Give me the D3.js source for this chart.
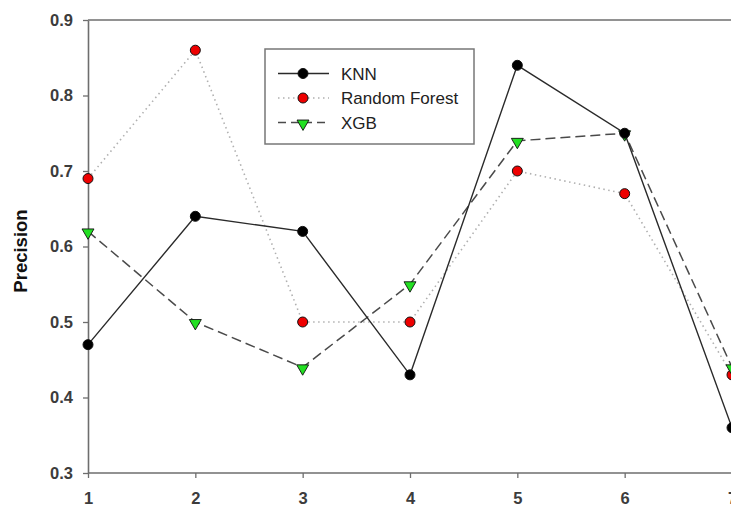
<!DOCTYPE html>
<html>
<head>
<meta charset="utf-8">
<script src="https://cdn.jsdelivr.net/npm/d3@7"></script>
<style>
  html, body { margin: 0; padding: 0; background: #fff; }
  svg { display: block; }
  text { font-family: "Liberation Sans", Arial, sans-serif; }
</style>
</head>
<body>
<svg id="chart" width="731" height="506"></svg>
<script>
// Precision per fold for three classifiers
const folds = [1, 2, 3, 4, 5, 6, 7];
const knn = [0.47, 0.64, 0.62, 0.43, 0.84, 0.75, 0.36];
const randomForest = [0.69, 0.86, 0.50, 0.50, 0.70, 0.67, 0.43];
const xgb = [0.62, 0.50, 0.44, 0.55, 0.74, 0.75, 0.44];
const yTicks = [0.3, 0.4, 0.5, 0.6, 0.7, 0.8, 0.9];
const seriesNames = ["KNN", "Random Forest", "XGB"];

const svg = d3.select("#chart");
const W = 731, H = 506;
const plotLeft = 88, plotTop = 20, plotBottom = 473;

const x = d3.scaleLinear().domain([1, 7]).range([plotLeft, 732]);
const y = d3.scaleLinear().domain([0.3, 0.9]).range([plotBottom, plotTop]);

const axisColor = "#6e6e6e";
const textColor = "#3c3c3c";

// Axes
const yAxis = svg.append("g").attr("transform", `translate(${plotLeft},0)`)
  .call(d3.axisLeft(y).tickValues(yTicks).tickFormat(d3.format(".1f")).tickSizeInner(5).tickSizeOuter(0).tickPadding(10));
const xAxis = svg.append("g").attr("transform", `translate(0,${plotBottom})`)
  .call(d3.axisBottom(x).tickValues(folds).tickFormat(d3.format("d")).tickSizeInner(5).tickSizeOuter(0).tickPadding(14));
[yAxis, xAxis].forEach(g => {
  g.select(".domain").attr("stroke", axisColor).attr("stroke-width", 1.6);
  g.selectAll(".tick line").attr("stroke", axisColor).attr("stroke-width", 1.3);
  g.selectAll(".tick text").attr("fill", textColor).attr("font-size", 16.5)
    .attr("font-weight", "bold").style("font-family", "'Liberation Sans', Arial, sans-serif");
});
xAxis.select(".domain").attr("d", `M${plotLeft},0H${W}`);

// top frame line
svg.append("line").attr("x1", plotLeft).attr("x2", W).attr("y1", y(0.9)).attr("y2", y(0.9))
  .attr("stroke", axisColor).attr("stroke-width", 1.6);

// Y title
svg.append("text")
  .attr("transform", `translate(27,251) rotate(-90)`)
  .attr("text-anchor", "middle")
  .attr("font-size", 18.5).attr("font-weight", "bold").attr("fill", "#111")
  .text("Precision");

const series = [
  { name: seriesNames[0], values: knn, stroke: "#2a2a2a", width: 1.4, dash: null, marker: "circle", fill: "#000" },
  { name: seriesNames[1], values: randomForest, stroke: "#b0b0b0", width: 1.6, dash: "1.5,3.5", marker: "circle", fill: "#ee0000" },
  { name: seriesNames[2], values: xgb, stroke: "#4a4a4a", width: 1.5, dash: "10,5", marker: "triangle", fill: "#22e022" }
];

const line = d3.line().x((d, i) => x(folds[i])).y(d => y(d));

function drawMarker(g, s, cx, cy) {
  if (s.marker === "circle") {
    g.append("circle").attr("cx", cx).attr("cy", cy).attr("r", 5)
      .attr("fill", s.fill).attr("stroke", "#111").attr("stroke-width", 1);
  } else {
    const sym = d3.symbol().type(d3.symbolTriangle).size(62);
    g.append("path").attr("d", sym())
      .attr("transform", `translate(${cx},${cy + 1}) rotate(180)`)
      .attr("fill", s.fill).attr("stroke", "#111").attr("stroke-width", 0.9);
  }
}

const plot = svg.append("g");
// dotted RF first, then dashed XGB, solid KNN on top
[series[1], series[2], series[0]].forEach(s => {
  plot.append("path").datum(s.values).attr("d", line)
    .attr("fill", "none").attr("stroke", s.stroke).attr("stroke-width", s.width)
    .attr("stroke-dasharray", s.dash);
});
[series[1], series[2], series[0]].forEach(s => {
  s.values.forEach((v, i) => drawMarker(plot, s, x(folds[i]), y(v)));
});

// Legend
const lg = svg.append("g");
lg.append("rect").attr("x", 265).attr("y", 49).attr("width", 209).attr("height", 95)
  .attr("fill", "#fff").attr("stroke", "#777").attr("stroke-width", 1.5);
series.forEach((s, i) => {
  const cy = 73.5 + i * 24.5;
  lg.append("line").attr("x1", 278).attr("x2", 329).attr("y1", cy).attr("y2", cy)
    .attr("stroke", s.stroke).attr("stroke-width", s.width)
    .attr("stroke-dasharray", s.dash === "10,5" ? "8,5" : s.dash);
  drawMarker(lg, s, 303, cy);
  lg.append("text").attr("x", 341).attr("y", cy + 6).attr("font-size", 17)
    .attr("fill", "#222").text(s.name);
});
</script>
</body>
</html>
